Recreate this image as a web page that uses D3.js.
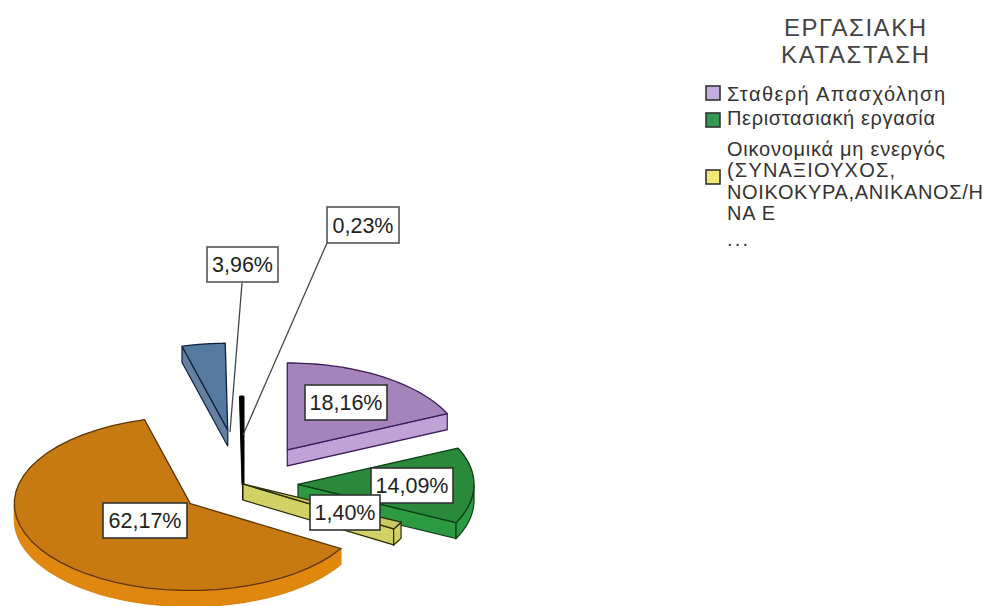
<!DOCTYPE html>
<html><head>
<meta charset="utf-8">
<script src="https://d3js.org/d3.v7.min.js"></script>
<style>
  html, body { margin: 0; background: #fff; }
  text { font-family: "Liberation Sans", Arial, sans-serif; fill: #222; }
</style>
</head>
<body>
<svg id="chart" width="985" height="606"></svg>
<script>
// Values, clockwise from twelve o'clock
// the legend is cut off after the third entry, so the last three slices only get ids
const categories = ["Σταθερή Απασχόληση", "Περιστασιακή εργασία", "Οικονομικά μη ενεργός", "slice4", "slice5", "slice6"];
const percentages = [18.16, 14.09, 1.40, 62.17, 3.96, 0.23];
const percentLabels = ["18,16%", "14,09%", "1,40%", "62,17%", "3,96%", "0,23%"];
const legendTitle = ["ΕΡΓΑΣΙΑΚΗ", "ΚΑΤΑΣΤΑΣΗ"];
const legendLines = [["Σταθερή Απασχόληση"], ["Περιστασιακή εργασία"],
  ["Οικονομικά μη ενεργός", "(ΣΥΝΑΞΙΟΥΧΟΣ,", "ΝΟΙΚΟΚΥΡΑ,ΑΝΙΚΑΝΟΣ/Η", "ΝΑ Ε", "..."]];

// Look of the slices
const topColors = ["#a584bb", "#2a8a3c", "#c9c860", "#c87a12", "#55799f", "#111111"];
const sideColors = ["#c0a2d6", "#2b9a40", "#d2d166", "#e0870f", "#66809f", "#111111"];
const edgeColors = ["#3a1c5c", "#0e3d18", "#2a2a08", "#5c3605", "#0f2440", "#000000"];
const rimColors = ["#3a1c5c", "#0e3d18", "#2a2a08", "#d98410", "#0f2440", "#000000"];
const swatchColors = ["#c4aee0", "#2f9a50", "#f0e870"];
const explode = [82, 55, 0, 66, 110, 0];
const paintOrder = [4, 5, 0, 1, 2, 3];

const svg = d3.select("#chart");
const radius = 176, tilt = 0.494, depth = 16;
const cx = 243, cy = 484;

const topColor = d3.scaleOrdinal().domain(categories).range(topColors);
const sideColor = d3.scaleOrdinal().domain(categories).range(sideColors);
const edgeColor = d3.scaleOrdinal().domain(categories).range(edgeColors);
const rimColor = d3.scaleOrdinal().domain(categories).range(rimColors);

const slices = d3.pie().sort(null).value(d => d)(percentages);
const line = d3.line();
const onRim = (a, drop) => [radius * Math.sin(a), -radius * tilt * Math.cos(a) + drop];
const arcPoints = (a0, a1, drop) => d3.range(0, 41).map(i => onRim(a0 + (a1 - a0) * i / 40, drop));

paintOrder.forEach(i => {
  const s = slices[i], name = categories[i];
  const mid = (s.startAngle + s.endAngle) / 2;
  const g = svg.append("g").attr("transform",
    "translate(" + (cx + explode[i] * Math.sin(mid)) + "," + (cy - explode[i] * tilt * Math.cos(mid)) + ")");

  // side walls that face the viewer
  const wall = (a) => g.append("path")
    .attr("d", line([[0, 0], onRim(a, 0), onRim(a, depth), [0, depth]]) + "Z")
    .attr("fill", sideColor(name)).attr("stroke", edgeColor(name)).attr("stroke-width", 1.2);
  if (Math.sin(s.startAngle) < 0) wall(s.startAngle);
  if (Math.sin(s.endAngle) > 0) wall(s.endAngle);

  // outer rim, only the part on the front half
  const a0 = Math.max(s.startAngle, Math.PI / 2), a1 = Math.min(s.endAngle, 3 * Math.PI / 2);
  if (a1 > a0) {
    g.append("path")
      .attr("d", line(arcPoints(a0, a1, 0).concat(arcPoints(a1, a0, depth))) + "Z")
      .attr("fill", sideColor(name)).attr("stroke", rimColor(name)).attr("stroke-width", 1.2);
  }

  // top face
  g.append("path")
    .attr("d", line([[0, 0]].concat(arcPoints(s.startAngle, s.endAngle, 0))) + "Z")
    .attr("fill", topColor(name)).attr("stroke", edgeColor(name))
    .attr("stroke-width", i == 5 ? 3 : 1.3).attr("stroke-linejoin", "round");
});

// leader lines for the two thin slices
[[[242, 283], [230, 432]], [[327, 243], [243, 435]]].forEach(pts => {
  svg.append("path").attr("d", line(pts)).attr("stroke", "#444").attr("stroke-width", 1.3).attr("fill", "none");
});

// value boxes
const boxes = [[305, 385, 82, 35], [371, 468, 82, 35], [310, 495, 70, 35], [103, 503, 84, 35], [207, 247, 71, 35], [327, 207, 72, 36]];
boxes.forEach((b, i) => {
  svg.append("rect").attr("x", b[0]).attr("y", b[1]).attr("width", b[2]).attr("height", b[3])
    .attr("fill", "#fff").attr("stroke", i > 3 ? "#555" : "#333").attr("stroke-width", 1.6);
  svg.append("text").attr("x", b[0] + b[2] / 2).attr("y", b[1] + b[3] / 2 + 7.5)
    .attr("text-anchor", "middle").attr("font-size", 21.5).text(percentLabels[i]);
});

// legend
const legend = svg.append("g");
const titleWidths = [142, 148];
legendTitle.forEach((t, i) => {
  legend.append("text").attr("x", 855).attr("y", 36 + i * 27).attr("text-anchor", "middle")
    .attr("font-size", 24).attr("textLength", titleWidths[i]).attr("lengthAdjust", "spacing")
    .style("fill", "#444").text(t);
});
const swatchTop = [86, 113, 170];
const lineBase = [[101], [125], [156, 177, 199, 220, 246]];
const lineWidths = [[218], [208], [218, 168, 256, 48, 21]];
legendLines.forEach((lines, i) => {
  legend.append("rect").attr("x", 706).attr("y", swatchTop[i]).attr("width", 14).attr("height", 14)
    .attr("fill", swatchColors[i]).attr("stroke", "#333").attr("stroke-width", 1.6);
  lines.forEach((t, j) => {
    legend.append("text").attr("x", 727).attr("y", lineBase[i][j]).attr("font-size", 20)
      .attr("textLength", lineWidths[i][j]).attr("lengthAdjust", "spacing").style("fill", "#333").text(t);
  });
});
</script>
</body></html>
